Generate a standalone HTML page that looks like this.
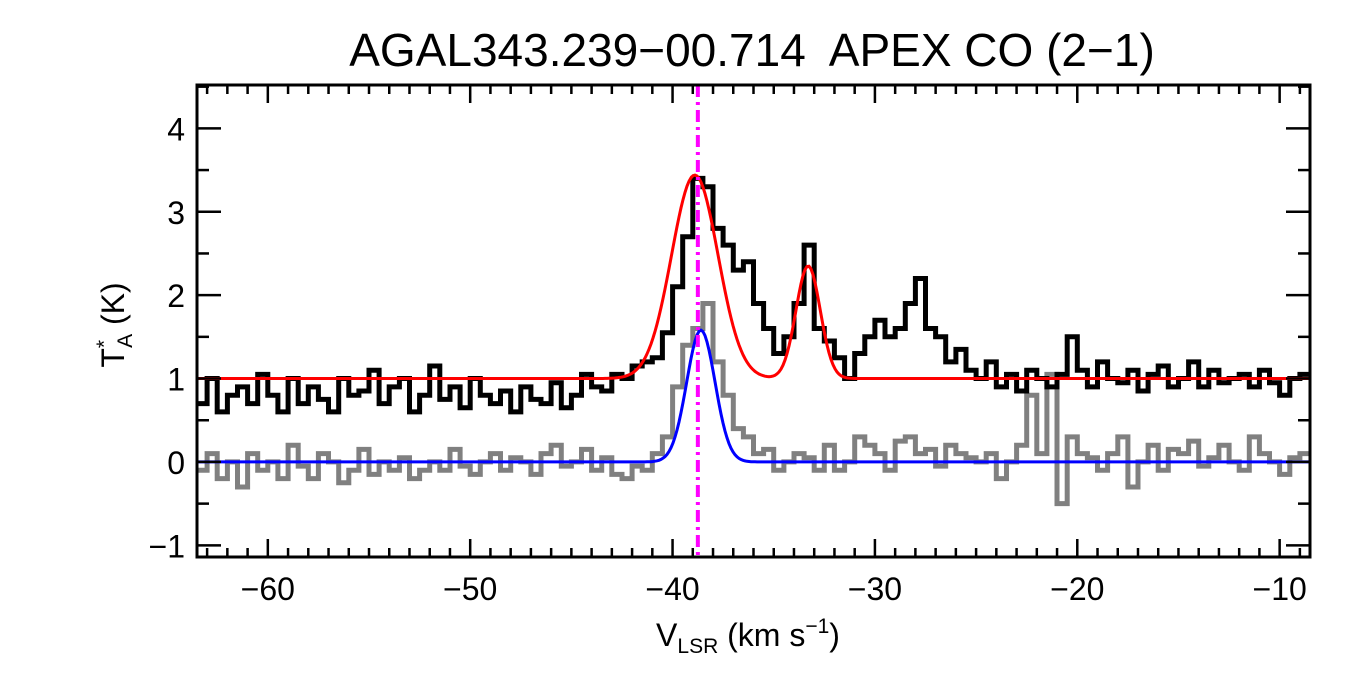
<!DOCTYPE html>
<html><head><meta charset="utf-8"><style>
html,body{margin:0;padding:0;background:#fff;}
svg{display:block;font-family:"Liberation Sans",sans-serif;}
</style></head><body>
<svg id="chart" width="1350" height="675" viewBox="0 0 1350 675">
<text x="752" y="66" font-size="46" text-anchor="middle" style="white-space:pre">AGAL343.239−00.714  APEX CO (2−1)</text>
<g id="plot"></g>
<text x="748" y="646" font-size="32" text-anchor="middle">V<tspan font-size="21" dy="7">LSR</tspan><tspan dy="-7"> (km s</tspan><tspan font-size="21" dy="-13">−1</tspan><tspan dy="13">)</tspan></text>
<g transform="translate(124,325) rotate(-90)">
<text x="0" y="0" font-size="32" text-anchor="middle">T<tspan font-size="21" dy="-13">*</tspan><tspan font-size="21" dx="-8" dy="21">A</tspan><tspan dy="-8"> (K)</tspan></text>
</g>
</svg>
<script>
const xStart = -63.25, chanWidth = 0.5;
const spectrumCO = [0.7,1.0,0.6,0.8,0.9,0.7,1.05,0.8,0.6,1.0,0.7,0.9,0.75,0.6,1.0,0.8,0.85,1.1,0.7,0.9,1.0,0.6,0.8,1.15,0.75,0.9,0.65,1.0,0.8,0.7,0.85,0.6,0.9,0.75,0.7,0.95,0.65,0.8,1.05,0.9,0.85,
1.05,1.0,1.15,1.2,1.25,1.55,2.1,2.7,3.4,3.3,2.8,2.6,2.3,2.4,1.9,1.6,1.3,1.5,1.9,2.6,1.6,1.45,1.25,1.0,1.3,1.5,1.7,1.5,1.6,1.9,2.2,1.6,1.5,1.2,1.35,1.1,
1.0,1.2,0.9,1.05,0.85,1.1,1.0,0.9,1.05,1.5,1.1,0.9,1.2,1.0,0.95,1.1,0.85,1.05,1.15,0.9,1.0,1.2,0.9,1.1,0.95,1.0,1.05,0.9,1.1,0.95,0.8,1.0,1.05];
const spectrumC18O = [-0.1,0.1,-0.2,0.0,-0.3,0.1,-0.1,0.0,-0.2,0.2,-0.05,-0.2,0.1,0.0,-0.25,-0.1,0.15,-0.15,0.0,-0.1,0.05,-0.2,-0.1,0.0,-0.1,0.15,-0.05,-0.15,0.0,0.1,-0.1,0.05,0.0,-0.15,0.1,0.2,-0.05,0.0,0.15,-0.1,0.05,
-0.15,-0.2,-0.05,-0.1,0.1,0.3,0.9,1.4,1.6,1.9,1.2,0.8,0.4,0.3,0.1,0.15,-0.1,0.0,0.1,0.05,-0.1,0.2,-0.1,0.0,0.3,0.2,0.1,-0.1,0.25,0.3,0.1,0.15,-0.05,0.2,0.1,0.05,
0.0,0.1,-0.2,0.0,0.2,0.8,0.1,1.05,-0.5,0.3,0.1,0.05,-0.1,0.1,0.3,-0.3,0.0,0.2,-0.1,0.15,0.1,0.25,-0.05,0.05,0.2,0.0,-0.1,0.3,0.1,0.0,-0.15,0.05,0.1];
const redBaseline = [1.0];
const redAmps = [2.44, 1.35];
const redCenters = [-38.9, -33.3];
const redSigmas = [1.15, 0.6];
const blueAmps = [1.58];
const blueCenters = [-38.6];
const blueSigmas = [0.7];
const markerVel = [-38.75];
const xTicks = [-60,-50,-40,-30,-20,-10];
const yTicks = [-1,0,1,2,3,4];

const L=197,R=1310,T=85,B=557, xMin=-63.5,xMax=-8.5,yMin=-1.14,yMax=4.52;
const X=v=>L+(v-xMin)/(xMax-xMin)*(R-L);
const Y=v=>B-(v-yMin)/(yMax-yMin)*(B-T);
const NS='http://www.w3.org/2000/svg';
const plot=document.getElementById('plot');
function mk(tag,attrs,parent){const e=document.createElementNS(NS,tag);for(const k in attrs)e.setAttribute(k,attrs[k]);(parent||plot).appendChild(e);return e;}
const clip=mk('clipPath',{id:'pc'});mk('rect',{x:L,y:T,width:R-L,height:B-T},clip);
function stepPath(arr){let d='';arr.forEach((v,i)=>{const c=xStart+i*chanWidth;const x0=X(c-chanWidth/2),x1=X(c+chanWidth/2),y=Y(v);d+=(i?'L':'M')+x0.toFixed(1)+','+y.toFixed(1)+'L'+x1.toFixed(1)+','+y.toFixed(1);});return d;}
function model(base,a,c,s){let d='';for(let px=L;px<=R;px+=2){const v=xMin+(px-L)/(R-L)*(xMax-xMin);let y=base;for(let k=0;k<a.length;k++)y+=a[k]*Math.exp(-((v-c[k])**2)/(2*s[k]*s[k]));d+=(px===L?'M':'L')+px+','+Y(y).toFixed(1);}return d;}
const g=mk('g',{'clip-path':'url(#pc)'});
let e;
e=mk('path',{d:stepPath(spectrumC18O),fill:'none',stroke:'#808080','stroke-width':5},g);


e=mk('path',{d:stepPath(spectrumCO),fill:'none',stroke:'#000','stroke-width':5},g);


e=mk('path',{d:model(redBaseline[0],redAmps,redCenters,redSigmas),fill:'none',stroke:'#ff0000','stroke-width':3},g);


e=mk('path',{d:model(0,blueAmps,blueCenters,blueSigmas),fill:'none',stroke:'#0000ff','stroke-width':3},g);


e=mk('line',{x1:X(markerVel[0]),x2:X(markerVel[0]),y1:T,y2:B,stroke:'#ff00ff','stroke-width':4,'stroke-dasharray':'12,5,3,5'},g);


const ax=mk('g',{stroke:'#000','stroke-width':2.5});
for(let v=-63;v<=-9;v++){const x=X(v);const maj=v%10===0;const len=maj?18:9;mk('line',{x1:x,x2:x,y1:B,y2:B-len},ax);mk('line',{x1:x,x2:x,y1:T,y2:T+len},ax);}
for(let v=-1;v<=4.5;v+=0.5){const y=Y(v);const maj=Number.isInteger(v);const len=maj?24:12;mk('line',{x1:L,x2:L+len,y1:y,y2:y},ax);mk('line',{x1:R,x2:R-len,y1:y,y2:y},ax);}
e=mk('rect',{x:L,y:T,width:R-L,height:B-T,fill:'none',stroke:'#000','stroke-width':3});


xTicks.forEach(v=>{const t=mk('text',{x:X(v),y:600,'font-size':32,'text-anchor':'middle'});t.textContent=String(v).replace('-','−');

});
yTicks.forEach(v=>{const t=mk('text',{x:185,y:Y(v)+12,'font-size':32,'text-anchor':'end'});t.textContent=String(v).replace('-','−');

});
</script>
</body></html>
